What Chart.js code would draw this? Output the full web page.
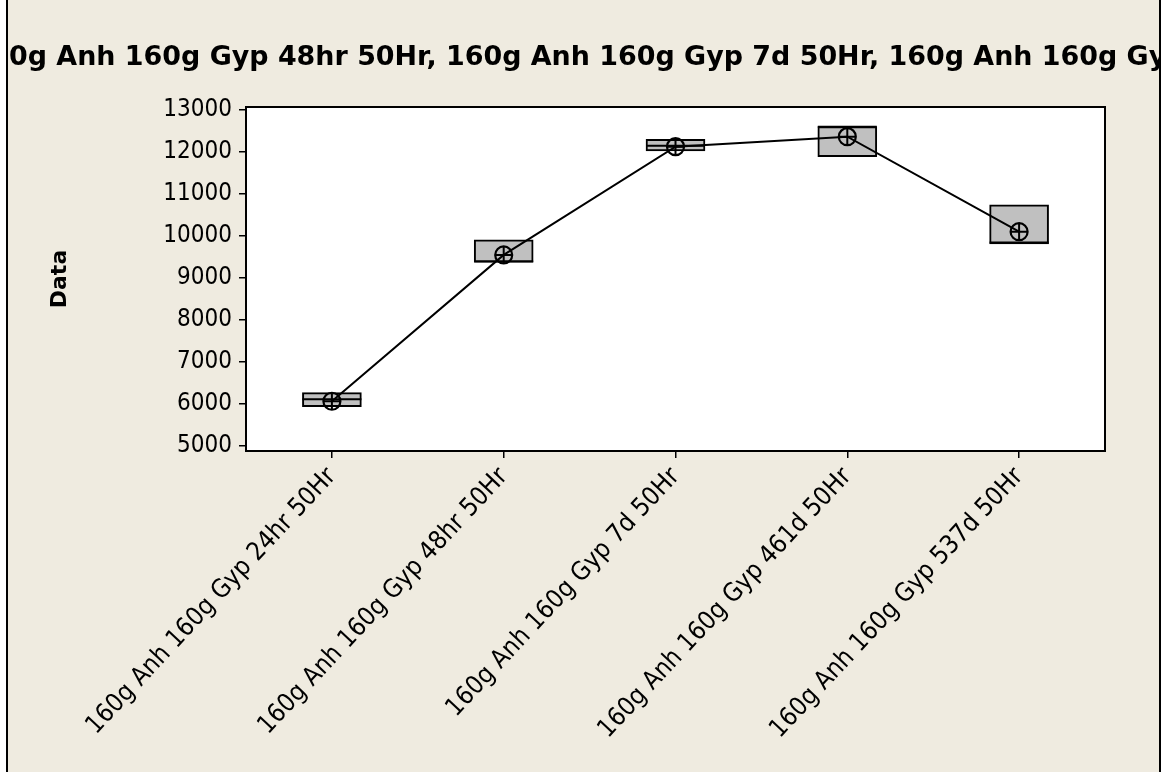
<!DOCTYPE html>
<html>
<head>
<meta charset="utf-8">
<script src="https://cdn.jsdelivr.net/npm/chart.js@4/dist/chart.umd.min.js"></script>
<style>
  html, body { margin: 0; padding: 0; background: #ffffff; }
  #wrap { position: relative; width: 1171px; height: 772px; }
</style>
</head>
<body>
<div id="wrap"><canvas id="c" width="1171" height="772"></canvas></div>
<script>
// ---- data ----
const categories = [
  "160g Anh 160g Gyp 24hr 50Hr",
  "160g Anh 160g Gyp 48hr 50Hr",
  "160g Anh 160g Gyp 7d 50Hr",
  "160g Anh 160g Gyp 461d 50Hr",
  "160g Anh 160g Gyp 537d 50Hr"
];
const q1Values     = [5936, 9374, 12024, 11888, 9810];
const q3Values     = [6269, 9905, 12302, 12602, 10738];
const medianValues = [6112, 9390, 12150, 12602, 9845];
const meanValues   = [6064, 9548, 12126, 12364, 10102];
const yTicks = [5000, 6000, 7000, 8000, 9000, 10000, 11000, 12000, 13000];
const titleText = "Boxplot of 160g Anh 160g Gyp 24hr 50Hr, 160g Anh 160g Gyp 48hr 50Hr, 160g Anh 160g Gyp 7d 50Hr, 160g Anh 160g Gyp 461d 50Hr, 160g Anh 160g Gyp 537d 50Hr";
const yTitle = "Data";

// ---- style ----
const FAM = "'DejaVu Sans Condensed', 'Liberation Sans', sans-serif";
const FAM_BOLD = "'DejaVu Sans', 'Liberation Sans', sans-serif";
const BG = "#EFEBE0";
const FRAME_L = 7, FRAME_R = 1160;

const framePlugin = {
  id: 'frame',
  beforeDraw(chart) {
    const ctx = chart.ctx, a = chart.chartArea;
    ctx.save();
    ctx.fillStyle = '#ffffff';
    ctx.fillRect(0, 0, chart.width, chart.height);
    ctx.fillStyle = BG;
    ctx.fillRect(FRAME_L, 0, FRAME_R - FRAME_L, chart.height);
    ctx.strokeStyle = '#000';
    ctx.lineWidth = 2;
    ctx.beginPath();
    ctx.moveTo(FRAME_L, 0); ctx.lineTo(FRAME_L, chart.height);
    ctx.moveTo(FRAME_R, 0); ctx.lineTo(FRAME_R, chart.height);
    ctx.stroke();
    ctx.fillStyle = '#ffffff';
    ctx.fillRect(a.left, a.top, a.right - a.left, a.bottom - a.top);
    // title (wider than the frame, clipped)
    ctx.beginPath();
    ctx.rect(FRAME_L + 1, 0, FRAME_R - FRAME_L - 2, chart.height);
    ctx.clip();
    const prefix = "Boxplot of 160g Anh 160g Gyp 24hr 50Hr, 16";
    const visible = "0g Anh 160g Gyp 48hr 50Hr, 160g Anh 160g Gyp 7d 50Hr, 160g Anh 160g G";
    ctx.font = "bold 100px " + FAM_BOLD;
    const size = Math.min(30, 100 * 1140 / ctx.measureText(visible).width);
    ctx.font = "bold " + size.toFixed(2) + "px " + FAM_BOLD;
    const pw = ctx.measureText(prefix).width;
    ctx.fillStyle = '#000';
    ctx.textAlign = 'left';
    ctx.textBaseline = 'alphabetic';
    ctx.fillText(titleText, 9 - pw, 65);
    ctx.restore();
  },
  afterDraw(chart) {
    const ctx = chart.ctx, a = chart.chartArea;
    ctx.save();
    ctx.strokeStyle = '#000';
    ctx.lineWidth = 2;
    ctx.strokeRect(a.left, a.top, a.right - a.left, a.bottom - a.top);
    ctx.restore();
  }
};

new Chart(document.getElementById('c'), {
  data: {
    labels: categories,
    datasets: [
      {
        type: 'line', label: 'meanCross', data: meanValues, order: 1,
        showLine: false, pointStyle: 'cross', pointRadius: 8.5, pointHoverRadius: 8.5,
        pointBorderColor: '#000', pointBorderWidth: 2, borderColor: '#000'
      },
      {
        type: 'line', label: 'mean', data: meanValues, order: 2,
        borderColor: '#000', borderWidth: 2, tension: 0,
        pointStyle: 'circle', pointRadius: 8.5, pointHoverRadius: 8.5,
        pointBorderColor: '#000', pointBackgroundColor: 'rgba(0,0,0,0)', pointBorderWidth: 2.2
      },
      {
        type: 'line', label: 'median', data: medianValues, order: 3,
        showLine: false, pointStyle: 'line', pointRadius: 29.5, pointHoverRadius: 29.5,
        pointBorderColor: '#000', pointBorderWidth: 2, borderColor: '#000'
      },
      {
        type: 'bar', label: 'box', order: 4,
        data: q1Values.map((q, i) => [q, q3Values[i]]),
        backgroundColor: '#C0C0C0', borderColor: '#000', borderWidth: 2,
        borderSkipped: false, barThickness: 59
      }
    ]
  },
  options: {
    responsive: false,
    animation: false,
    events: [],
    layout: { padding: { left: 40, right: 66, top: 107, bottom: 0 } },
    plugins: { legend: { display: false }, tooltip: { enabled: false }, title: { display: false } },
    scales: {
      x: {
        type: 'category',
        offset: true,
        grid: { drawOnChartArea: false, offset: false, drawTicks: true, tickLength: 7, color: '#000', lineWidth: 1.5 },
        border: { display: true, color: '#000', width: 2 },
        ticks: {
          autoSkip: false, minRotation: 47, maxRotation: 47, padding: 4,
          color: '#000', font: { family: FAM, size: 25.5 }
        },
        afterFit(s) { s.height = 321; s.paddingLeft = 0; s.paddingRight = 0; }
      },
      y: {
        type: 'linear',
        min: 4880, max: 13070,
        grid: { drawOnChartArea: false, drawTicks: true, tickLength: 7, color: '#000', lineWidth: 1.5 },
        border: { display: true, color: '#000', width: 2 },
        afterBuildTicks(s) { s.ticks = yTicks.map(v => ({ value: v })); },
        ticks: {
          padding: 7, color: '#000', font: { family: FAM, size: 24 },
          callback: v => String(v)
        },
        title: {
          display: true, text: yTitle, color: '#000',
          font: { family: FAM_BOLD, size: 22, weight: 'bold' }, padding: { top: 7, bottom: 0 }
        },
        afterFit(s) { s.width = 206; }
      }
    }
  },
  plugins: [framePlugin]
});
</script>
</body>
</html>
